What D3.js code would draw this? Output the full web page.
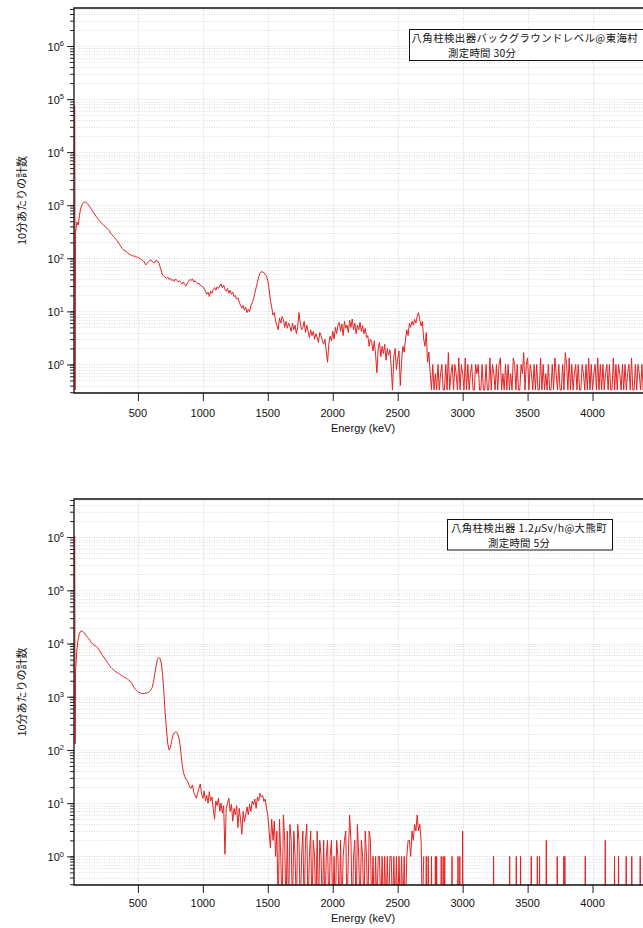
<!DOCTYPE html>
<html><head><meta charset="utf-8">
<script src="https://cdn.jsdelivr.net/npm/d3@7/dist/d3.min.js"></script>
<style>
body{margin:0;background:#fff}
svg{display:block}
text{font-family:"Liberation Sans","Noto Sans CJK JP",sans-serif;fill:#111}
.jp{font-family:"Noto Sans CJK JP","Liberation Sans",sans-serif}
</style>
</head><body>
<svg id="chart" width="643" height="928"></svg>
<script>
// ---------------- data ----------------
const xTickValues = [500, 1000, 1500, 2000, 2500, 3000, 3500, 4000];
const yMajorExponents = [0, 1, 2, 3, 4, 5, 6];
const xAxisTitle = "Energy (keV)";
const yAxisTitle = "10分あたりの計数";

const binStart = 20;   // keV of first regular bin
const binWidth = 10;   // keV per bin

// top panel: background level, Tokai-mura (30 min)
const topLeadEnergy = [14, 17];
const topLeadCounts = [75000, 0.33];
const topCounts = [ // 20 .. 2760 keV
  300, 480, 420, 650, 880, 1020, 1120, 1150, 1130, 1080,
  1010, 930, 860, 790, 720, 660, 610, 560, 520, 490,
  460, 440, 410, 390, 375, 350, 330, 300, 280, 260,
  245, 230, 215, 195, 180, 165, 152, 142, 138, 135,
  128, 120, 118, 112, 114, 108, 110, 106, 104, 100,
  98, 94, 90, 85, 75, 80, 86, 90, 94, 88,
  82, 84, 92, 90, 82, 70, 58, 48, 46, 44,
  42, 44, 40, 42, 38, 40, 37, 41, 38, 36,
  38, 35, 33, 36, 32, 30, 34, 37, 40, 38,
  41, 36, 38, 35, 33, 34, 31, 30, 29, 27,
  24, 21, 23, 19, 24, 22, 26, 28, 25, 29,
  27, 30, 33, 28, 31, 26, 24, 27, 22, 25,
  21, 23, 19, 20, 17, 18, 15, 13, 11.5, 13,
  10.5, 12, 9.5, 11, 9.8, 13, 14.5, 17, 22, 28,
  35, 45, 52, 56, 55, 54, 50, 46, 38, 26,
  16, 12, 8.5, 9.5, 6.5, 5.5, 4.5, 7.5, 6, 8,
  7, 5, 6.5, 4.8, 6, 5.2, 4.2, 6, 4.5, 5.5,
  3.8, 5, 9.5, 6, 4.5, 5, 6.5, 4, 5.5, 4.2,
  3.2, 4.5, 3.5, 4.2, 3, 3.8, 3.2, 2.6, 4, 3.5,
  2.8, 2.4, 3, 1.8, 1.1, 2.5, 3.4, 2.8, 4.2, 3,
  5, 3.8, 5.5, 6.2, 4.2, 5.8, 3.5, 6.5, 4.8, 5.5,
  4, 6.8, 5, 7.2, 4.5, 6, 3.8, 5.5, 4.5, 6.2,
  4.2, 5.4, 3.8, 4.8, 3.2, 3.5, 2.2, 3, 2.6, 1.8,
  2.8, 1.5, 0.7, 2, 2.6, 1.4, 2.2, 1.6, 2.4, 1.2,
  2, 1.5, 1.9, 0.9, 0.33, 1.4, 2, 0.8, 1.3, 1.8,
  0.4, 1.2, 2.2, 1.7, 3, 4.5, 3.5, 6, 5, 6.5,
  5.5, 7.1, 6, 8, 9.5, 7, 5.3, 6.5, 3, 2.2,
  4, 1.1, 1.7, 0.7, 0.33
];
const topNoise = [ // 2770 .. 4450 keV
  1, .33, .67, .33, 1, .33, .67, 1, .33, .33,
  1, .33, 1.67, .33, .67, 1, .33, 1, .67, .33,
  1.33, .33, 1, .67, .33, 1.33, .33, 1, .33, .67,
  1, .33, .33, 1, .67, 1, .33, .33, 1, .33,
  .33, 1, .33, .33, 1.33, .33, 1, .67, .33, 1,
  .33, 1, 1.33, .33, .67, .33, 1, .33, 1, .33,
  .67, .33, 1.33, 1, .33, 1, .33, .33, 1, .67,
  1.67, .33, 1, 1.33, .33, 1, .67, .33, 1, .33,
  1, .33, .33, 1.33, .33, 1, .33, .67, .33, 1,
  .33, .33, 1, .33, 1.33, .67, .33, 1, .33, .33,
  1, .33, 1.67, 1, .33, 1.33, .33, 1, .33, .67,
  1, .33, 1, .33, .33, 1, .67, .33, 1, .33,
  1.33, .33, 1, .33, .67, 1, .33, 1.33, .33, 1,
  .33, 1, .33, .67, 1, .33, 1, .33, .33, 1.33,
  .33, 1, .33, 1, .67, .33, 1, .33, 1, .33,
  .67, 1, .33, 1.33, .33, .33, 1, .33, 1, .67,
  .33, 1, .33, 1, .33, .67, 1, .33, 1
];

// bottom panel: 1.2 μSv/h, Okuma-machi (5 min)
const bottomLeadEnergy = [14, 16, 18];
const bottomLeadCounts = [1050000, 130, 150];
const bottomCounts = [ // 20 .. 1570 keV
  3000, 7500, 12000, 15500, 17000, 17200, 16500, 15500, 14200, 13300,
  12600, 11500, 10500, 9800, 9500, 9200, 8800, 8300, 7600, 7000,
  6400, 5900, 5400, 5000, 4600, 4200, 3900, 3600, 3400, 3250,
  3100, 2950, 2850, 2750, 2650, 2550, 2450, 2380, 2300, 2230,
  2150, 2050, 1950, 1850, 1650, 1500, 1380, 1300, 1240, 1200,
  1180, 1160, 1150, 1160, 1170, 1180, 1200, 1250, 1350, 1500,
  1900, 2700, 3800, 5000, 5500, 5200, 4300, 2600, 1200, 500,
  240, 130, 100, 110, 150, 190, 210, 218, 215, 190,
  150, 95, 55, 38, 32, 28, 27, 23, 20, 19,
  22, 16, 14, 12.4, 16, 19, 23, 15, 12.4, 17,
  11, 14, 10, 16.5, 11, 13, 8, 5, 11, 9,
  12.4, 7, 10, 6.5, 9, 1.1, 8, 10, 12.4, 7,
  9.5, 4.6, 8, 6, 9, 3.5, 8, 5, 2.6, 7,
  4.5, 6, 8.5, 6, 9.5, 7, 11, 9.4, 12, 8,
  13, 11, 15.4, 13, 14, 10.8, 12, 8, 6, 3,
  1.45, 5, 2, 4.6, 1, 3
];
const bottomNoise = [ // 1580 .. 2700 keV
  0, 5, 1, 0, 6, 2, 0, 3, 0, 4,
  2, 0, 3, 1, 0, 4, 2, 0, 1, 3,
  0, 2, 4, 0, 1, 3, 0, 2, 1, 0,
  3, 0, 2, 1, 0, 2, 0, 1, 2, 0,
  1, 2, 0, 1, 0, 2, 1, 0, 2, 0,
  1, 2, 3, 0, 1, 6, 2, 0, 1, 2,
  0, 4, 1, 0, 2, 1, 0, 3, 1, 0,
  3, 2, 0, 1, 0, 1, 0, 1, 1, 0,
  1, 0, 1, 0, 1, 0, 1, 1, 0, 1,
  0, 1, 0, 1, 0, 1, 0, 1, 0, 1,
  2, 2, 1, 3, 2, 4, 3, 6, 3, 4,
  2, 0, 1
];
const bottomSpikeEnergy = [2720, 2735, 2760, 2790, 2800, 2835, 2850, 2862, 2918, 2964, 2978, 3000,
  3238, 3362, 3413, 3446, 3528, 3575, 3592, 3644, 3728, 3779, 3787, 3944, 4098, 4169, 4200, 4259, 4302, 4367, 4420];
const bottomSpikeCounts = [1, 1, 1, 1, 1, 1, 1, 1, 1, 1, 1, 3,
  1, 1, 1, 1, 1, 1, 1, 2, 1, 1, 1, 1, 2, 1, 1, 1, 1, 1, 1];

const topLabel = ["八角柱検出器バックグラウンドレベル@東海村", "測定時間 30分"];
const bottomLabel = ["八角柱検出器 1.2", "μ", "Sv/h@大熊町", "測定時間 5分"];

// ---------------- drawing ----------------
const svg = d3.select("#chart");
const X0 = 74, X1 = 651;
const yDomain = [0.29, 5.2e6];
const x = d3.scaleLinear().domain([8, 4450]).range([X0, X1]);
const lineColor = "#e42222";

function buildSeries(leadE, leadC, counts, noiseStart, noise) {
  const pts = leadE.map((e, i) => [e, leadC[i]]);
  counts.forEach((c, i) => pts.push([binStart + i * binWidth, c]));
  noise.forEach((c, i) => pts.push([noiseStart + i * binWidth, c]));
  return pts;
}

function drawPanel(cfg, idx) {
  const y = d3.scaleLog().domain(yDomain).range([cfg.bottom, cfg.top]);
  const g = svg.append("g");
  const clipId = "clip" + idx;
  svg.append("clipPath").attr("id", clipId).append("rect")
    .attr("x", X0).attr("y", cfg.top).attr("width", X1 - X0).attr("height", cfg.bottom - cfg.top);

  const minor = [];
  for (let n = -1; n <= 6; n++) for (let k = 1; k <= 9; k++) {
    const v = k * Math.pow(10, n);
    if (v >= yDomain[0] && v <= yDomain[1]) minor.push(v);
  }
  const major = yMajorExponents.map(e => Math.pow(10, e));

  // grid
  const grid = g.append("g");
  grid.selectAll("line.h").data(minor).join("line")
    .attr("x1", X0).attr("x2", X1)
    .attr("y1", d => Math.round(y(d)) + 0.5).attr("y2", d => Math.round(y(d)) + 0.5)
    .attr("stroke", "#cfcfd6").attr("stroke-width", 0.7).attr("stroke-dasharray", "1,1.5");
  grid.selectAll("line.v").data(xTickValues).join("line")
    .attr("x1", d => Math.round(x(d)) + 0.5).attr("x2", d => Math.round(x(d)) + 0.5)
    .attr("y1", cfg.top).attr("y2", cfg.bottom)
    .attr("stroke", "#c4c4ce").attr("stroke-width", 0.7).attr("stroke-dasharray", "1,1.5");

  // data line
  const yy = v => v > 0 ? y(v) : cfg.bottom + 30;
  const line = d3.line().x(d => x(d[0])).y(d => yy(d[1]));
  const plot = g.append("g").attr("clip-path", `url(#${clipId})`);
  plot.append("path").datum(cfg.series)
    .attr("d", line).attr("fill", "none").attr("stroke", lineColor)
    .attr("stroke-width", 1).attr("stroke-linejoin", "round");
  if (cfg.spikes) {
    cfg.spikes.forEach(s => {
      plot.append("path").datum([[s[0] - 3, 0], [s[0], s[1]], [s[0] + 3, 0]])
        .attr("d", line).attr("fill", "none").attr("stroke", lineColor).attr("stroke-width", 1);
    });
  }

  // axes
  const yAxisMinor = d3.axisLeft(y).tickValues(minor).tickSize(4).tickFormat("").tickSizeOuter(0);
  const yAxisMajor = d3.axisLeft(y).tickValues(major).tickSize(7).tickFormat("").tickSizeOuter(0);
  const ga = g.append("g").attr("transform", `translate(${X0},0)`).call(yAxisMinor);
  const gb = g.append("g").attr("transform", `translate(${X0},0)`).call(yAxisMajor);
  [ga, gb].forEach(a => { a.select(".domain").remove(); a.selectAll("line").attr("stroke", "#222").attr("stroke-width", 1); });

  const xAxis = d3.axisBottom(x).tickValues(xTickValues).tickSize(8).tickFormat("").tickSizeOuter(0);
  const gx = g.append("g").attr("transform", `translate(0,${cfg.bottom})`).call(xAxis);
  gx.select(".domain").remove();
  gx.selectAll("line").attr("stroke", "#222").attr("stroke-width", 1);

  // frame
  g.append("path")
    .attr("d", `M${X1 + 10},${cfg.top}H${X0}V${cfg.bottom}H${X1 + 10}`)
    .attr("fill", "none").attr("stroke", "#111").attr("stroke-width", 1.3);

  // y labels
  major.forEach((v, i) => {
    const t = g.append("text").attr("x", 64).attr("y", y(v) + 4.8)
      .attr("text-anchor", "end").attr("font-size", 11);
    t.append("tspan").text("10");
    t.append("tspan").attr("dy", -4.6).attr("font-size", 7.5).text(yMajorExponents[i]);
  });
  // x labels
  g.selectAll("text.xl").data(xTickValues).join("text")
    .attr("x", d => x(d)).attr("y", cfg.bottom + cfg.xlab)
    .attr("text-anchor", "middle").attr("font-size", 11).text(d => d);
  g.append("text").attr("x", 363).attr("y", cfg.bottom + cfg.xtitle)
    .attr("text-anchor", "middle").attr("font-size", 11).text(xAxisTitle);
  g.append("text").attr("class", "jp")
    .attr("transform", `translate(21,${(cfg.top + cfg.bottom) / 2}) rotate(-90)`)
    .attr("text-anchor", "middle").attr("dominant-baseline", "central")
    .attr("font-size", 11).text(yAxisTitle);

  // annotation box
  const b = cfg.box;
  g.append("rect").attr("x", b.x).attr("y", b.y).attr("width", b.w).attr("height", b.h)
    .attr("fill", "#fff").attr("stroke", "#111").attr("stroke-width", 1);
  b.draw(g);
}

const topSeries = buildSeries(topLeadEnergy, topLeadCounts, topCounts, 2770, topNoise);
const bottomSeries = buildSeries(bottomLeadEnergy, bottomLeadCounts, bottomCounts, 1580, bottomNoise);

drawPanel({
  top: 8, bottom: 393, xlab: 23.5, xtitle: 39, series: topSeries,
  box: { x: 409.5, y: 29.5, w: 260, h: 31, draw: gg => {
    gg.append("text").attr("class", "jp").attr("x", 411.5).attr("y", 37.3)
      .attr("dominant-baseline", "central").attr("font-size", 10.4)
      .attr("letter-spacing", 0.45).text(topLabel[0]);
    gg.append("text").attr("class", "jp").attr("x", 448).attr("y", 52.6)
      .attr("dominant-baseline", "central").attr("font-size", 10.4)
      .attr("letter-spacing", 0.3).text(topLabel[1]);
  }}
}, 0);

drawPanel({
  top: 499, bottom: 885, xlab: 21.5, xtitle: 37, series: bottomSeries,
  spikes: bottomSpikeEnergy.map((e, i) => [e, bottomSpikeCounts[i]]),
  box: { x: 447.5, y: 519.5, w: 165, h: 30.5, draw: gg => {
    const t = gg.append("text").attr("class", "jp").attr("x", 451).attr("y", 527.3)
      .attr("dominant-baseline", "central").attr("font-size", 10.4).attr("letter-spacing", 0.4);
    t.append("tspan").text(bottomLabel[0]);
    t.append("tspan").attr("font-style", "italic").text(bottomLabel[1]);
    t.append("tspan").text(bottomLabel[2]);
    gg.append("text").attr("class", "jp").attr("x", 488).attr("y", 542.6)
      .attr("dominant-baseline", "central").attr("font-size", 10.4)
      .attr("letter-spacing", 0.3).text(bottomLabel[3]);
  }}
}, 1);
</script>
</body></html>
